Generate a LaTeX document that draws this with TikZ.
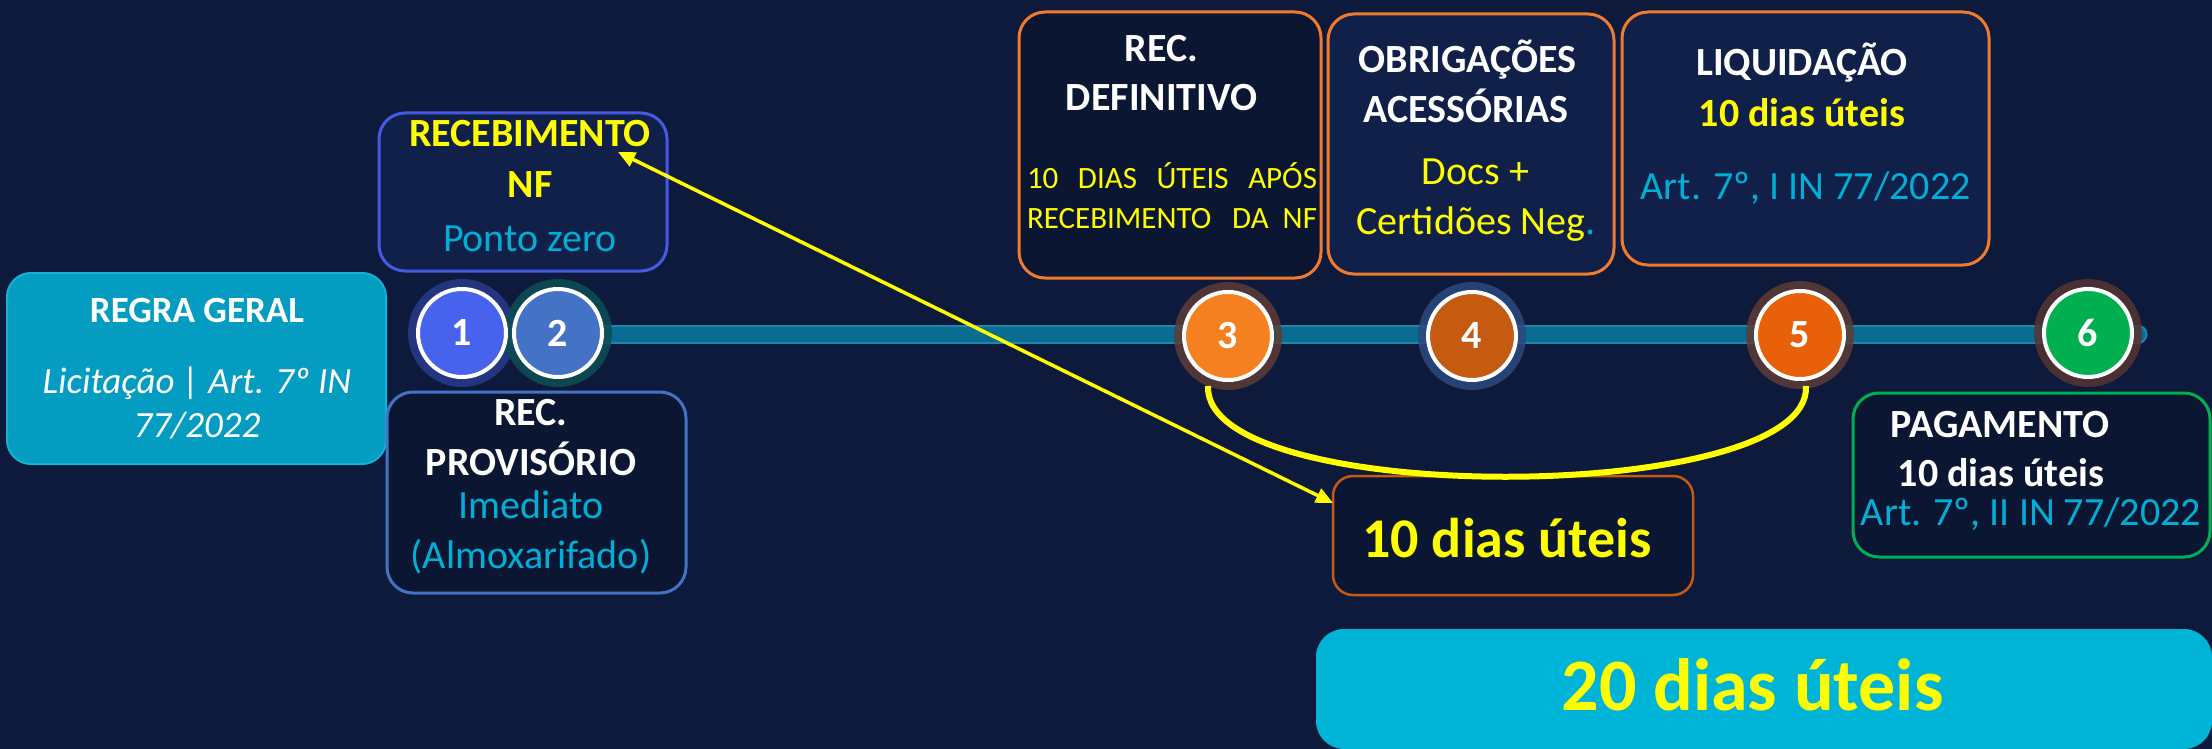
\documentclass[tikz,border=0pt]{standalone}
\usepackage{fontspec}
\setmainfont{Carlito}
\usetikzlibrary{arrows.meta}
\definecolor{bgc}{RGB}{14,26,60}
\definecolor{darkfill}{RGB}{11,23,50}
\definecolor{navyfill}{RGB}{16,32,72}
\definecolor{orangeb}{RGB}{240,123,44}
\definecolor{blueb}{RGB}{70,90,225}
\definecolor{steelb}{RGB}{68,114,196}
\definecolor{greenb}{RGB}{0,176,80}
\definecolor{dorangeb}{RGB}{197,90,17}
\definecolor{cyantext}{RGB}{0,174,214}
\definecolor{regfill}{RGB}{4,156,192}
\definecolor{regborder}{RGB}{18,180,214}
\definecolor{bigcyan}{RGB}{0,180,216}
\definecolor{baredge}{RGB}{28,136,178}
\definecolor{barcol}{RGB}{10,108,145}
\definecolor{yel}{RGB}{255,255,0}
\definecolor{cA}{RGB}{71,99,238}\definecolor{hA}{RGB}{40,58,140}
\definecolor{cB}{RGB}{68,114,196}\definecolor{hB}{RGB}{12,78,84}
\definecolor{cC}{RGB}{244,128,32}\definecolor{hC}{RGB}{92,60,54}
\definecolor{cD}{RGB}{197,90,17}\definecolor{hD}{RGB}{44,72,128}
\definecolor{cE}{RGB}{232,96,10}\definecolor{hE}{RGB}{92,60,54}
\definecolor{cF}{RGB}{0,176,80}\definecolor{hF}{RGB}{86,52,50}
\newcommand\myfs[1]{\fontsize{#1}{#1}\selectfont}
\begin{document}
\begin{tikzpicture}[x=1pt,y=-1pt,
  box/.style={draw, rounded corners=26pt, line width=3pt, inner sep=0pt},
  txt/.style={inner sep=0pt, anchor=base, font=\myfs{40}},
  hd/.style={txt, text=white, font=\myfs{40}\bfseries},
  cy/.style={txt, text=cyantext},
  ye/.style={txt, text=yel},
  numc/.style={circle, draw=white, line width=4pt, minimum size=88pt, inner sep=0pt, text=white, font=\myfs{40}\bfseries},
  halo/.style={circle, minimum size=108pt, inner sep=0pt},
  yarrow/.style={draw=yel, line width=3.5pt, {Triangle[length=17pt,width=15pt]}-{Triangle[length=17pt,width=15pt]}},
  ucurve/.style={draw=yel, line width=6pt}
]
\fill[bgc] (0,0) rectangle (2212,749);
\useasboundingbox (0,0) rectangle (2212,749);

% timeline bar
\coordinate (barstart) at (470,334);
\coordinate (barend) at (2138,334);
\draw[baredge, line width=19pt, line cap=round] (barstart) -- (barend);
\draw[barcol, line width=15pt, line cap=round] (barstart) -- (barend);

% halos
\node[halo, fill=hA, opacity=0.85] (h1) at (462,333) {};
\node[halo, fill=hB, opacity=0.85] (h2) at (558,333) {};
\node[halo, fill=hC, opacity=0.85] (h3) at (1228,336) {};
\node[halo, fill=hD, opacity=0.85] (h4) at (1472,336) {};
\node[halo, fill=hE, opacity=0.85] (h5) at (1800,335) {};
\node[halo, fill=hF, opacity=0.85] (h6) at (2088,333) {};

% numbered circles
\node[numc, fill=cA] (c1) at (462,333) {1};
\node[numc, fill=cB] (c2) at (558,333) {2};
\node[numc, fill=cC] (c3) at (1228,336) {3};
\node[numc, fill=cD] (c4) at (1472,336) {4};
\node[numc, fill=cE] (c5) at (1800,335) {5};
\node[numc, fill=cF] (c6) at (2088,333) {6};

% boxes
\node[box, draw=regborder, fill=regfill, line width=2pt, rounded corners=24pt, minimum width=379pt, minimum height=191pt] (rg) at (196.5,368.5) {};
\node[box, draw=blueb, fill=navyfill, minimum width=288pt, minimum height=158pt] (nf) at (523,192) {};
\node[box, draw=steelb, fill=darkfill, minimum width=299pt, minimum height=201pt] (rp) at (536.5,492.5) {};
\node[box, draw=orangeb, fill=darkfill, minimum width=302pt, minimum height=266pt] (rd) at (1170,145) {};
\node[box, draw=orangeb, fill=navyfill, minimum width=286pt, minimum height=260pt] (ob) at (1471,144) {};
\node[box, draw=orangeb, fill=navyfill, minimum width=367pt, minimum height=253pt] (lq) at (1805.5,138.5) {};
\node[box, draw=greenb, fill=darkfill, minimum width=357pt, minimum height=164pt] (pg) at (2031.5,475) {};
\node[box, draw=dorangeb, fill=darkfill, line width=2.5pt, rounded corners=20pt, minimum width=360pt, minimum height=119pt] (d10) at (1513,535.5) {};
\node[fill=bigcyan, rounded corners=28pt, inner sep=0pt, minimum width=896pt, minimum height=120pt] (d20) at (1764,689) {};

% texts: regra geral
\node[hd, font=\myfs{37}\bfseries] (rgt1) at (197,322) {REGRA GERAL};
\node[txt, text=white, font=\myfs{37}\itshape] (rgt2) at (197,393) {Licitação | Art. 7º IN};
\node[txt, text=white, font=\myfs{37}\itshape] (rgt3) at (197,437) {77/2022};

% recebimento nf
\node[txt, text=yel, font=\myfs{40}\bfseries] (nft1) at (530,147) {RECEBIMENTO};
\node[txt, text=yel, font=\myfs{40}\bfseries] (nft2) at (530,197) {NF};
\node[cy] (nft3) at (530,251) {Ponto zero};

% rec provisorio
\node[hd] (rpt1) at (531,425) {REC.};
\node[hd] (rpt2) at (531,475) {PROVISÓRIO};
\node[cy] (rpt3) at (531,518) {Imediato};
\node[cy] (rpt4) at (531,568) {(Almoxarifado)};

% rec definitivo
\node[hd] (rdt1) at (1161.5,62) {REC.};
\node[hd] (rdt2) at (1161.5,111) {DEFINITIVO};
\node[ye, font=\myfs{31}] (rdt3) at (1172,188) {\hbox to 290pt{10\hfill DIAS\hfill ÚTEIS\hfill APÓS}};
\node[ye, font=\myfs{31}] (rdt4) at (1172,228) {\hbox to 290pt{RECEBIMENTO \hfill\hfill DA \hfill NF}};

% obrigacoes
\node[hd] (obt1) at (1467.5,73) {OBRIGAÇÕES};
\node[hd] (obt2) at (1466,123) {ACESSÓRIAS};
\node[ye] (obt3) at (1475.5,184) {Docs +};
\node[ye] (obt4) at (1476,234) {Certidões Neg{\color{cyantext}.}};

% liquidacao
\node[hd] (lqt1) at (1802,76) {LIQUIDAÇÃO};
\node[ye, font=\myfs{40}\bfseries] (lqt2) at (1802,127) {10 dias úteis};
\node[cy] (lqt3) at (1805.5,200) {Art. 7º, I IN 77/2022};

% pagamento
\node[hd] (pgt1) at (2000,437) {PAGAMENTO};
\node[hd] (pgt2) at (2001,486) {10 dias úteis};
\node[cy] (pgt3) at (2031,525) {Art. 7º, II IN 77/2022};

% 10 dias / 20 dias
\node[ye, font=\myfs{56}\bfseries] (d10t) at (1507,557) {10 dias úteis};
\node[ye, font=\myfs{74}\bfseries] (d20t) at (1752.5,710) {20 dias úteis};

% connectors
\coordinate (arrA) at (618,152);
\coordinate (arrB) at (1333,503);
\draw[yarrow] (arrA) -- (arrB);

\coordinate (u1) at (1208,386);
\coordinate (u2) at (1806,386);
\draw[ucurve] (u1) .. controls (1203,508) and (1812,506) .. (u2);
\end{tikzpicture}
\end{document}
